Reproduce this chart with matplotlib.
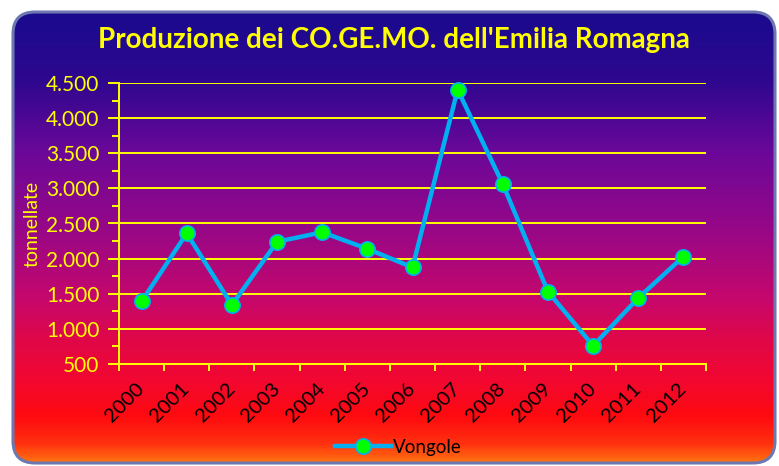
import numpy as np
import matplotlib
matplotlib.use('Agg')
import matplotlib.pyplot as plt
from matplotlib.patches import FancyBboxPatch
from matplotlib.colors import LinearSegmentedColormap
from matplotlib.ticker import FuncFormatter, MultipleLocator
from matplotlib.transforms import ScaledTranslation

anni = ['2000', '2001', '2002', '2003', '2004', '2005', '2006',
        '2007', '2008', '2009', '2010', '2011', '2012']
vongole = [1390, 2360, 1340, 2240, 2375, 2140, 1875, 4405, 3060, 1530, 760, 1440, 2030]

plt.rcParams['font.family'] = ['Lato', 'DejaVu Sans']

W, H = 779, 466
fig = plt.figure(figsize=(W/100, H/100), dpi=100)
fig.patch.set_facecolor('white')

# background: rounded frame filled with a vertical gradient
bg = fig.add_axes([0, 0, 1, 1])
bg.set_xlim(0, W)
bg.set_ylim(H, 0)
bg.axis('off')
grad = LinearSegmentedColormap.from_list('bg', [
    (0.00, (0.10, 0.04, 0.56)),
    (0.15, (0.18, 0.03, 0.56)),
    (0.31, (0.42, 0.03, 0.60)),
    (0.48, (0.59, 0.03, 0.53)),
    (0.64, (0.78, 0.03, 0.42)),
    (0.73, (0.88, 0.03, 0.28)),
    (0.82, (0.95, 0.03, 0.19)),
    (0.90, (1.00, 0.04, 0.06)),
    (0.96, (1.00, 0.19, 0.06)),
    (1.00, (1.00, 0.44, 0.06)),
])
frame = FancyBboxPatch((13, 12), 762, 451, boxstyle='round,pad=0,rounding_size=22',
                       facecolor='none', edgecolor='#6d78b0', lw=2.2, zorder=3)
bg.add_patch(frame)
img = bg.imshow(np.linspace(0, 1, 300).reshape(-1, 1), cmap=grad, aspect='auto',
                extent=(13, 775, 463, 12), zorder=1)
img.set_clip_path(frame)

ax = fig.add_axes([119/W, 1-364/H, (706-119)/W, (364-83)/H])
ax.set_facecolor('none')
x = np.arange(len(anni))
ax.plot(x, vongole, color='#00b0f0', lw=3.2, marker='o', markersize=11,
        markerfacecolor='#00ff00', markeredgecolor='#00b0f0', markeredgewidth=1.2,
        label='Vongole', zorder=5, clip_on=False)

ax.set_xlim(-0.5, len(anni) - 0.5)
ax.set_ylim(500, 4500)
ax.yaxis.set_major_locator(MultipleLocator(500))
ax.yaxis.set_minor_locator(MultipleLocator(250))
ax.yaxis.set_major_formatter(FuncFormatter(lambda v, p: f'{v:,.0f}'.replace(',', '.')))
ax.grid(axis='y', color='#ffff00', lw=1.4)
ax.set_axisbelow(True)
for s in ['top', 'right']:
    ax.spines[s].set_visible(False)
for s in ['left', 'bottom']:
    ax.spines[s].set_color('#ffff00')
    ax.spines[s].set_linewidth(1.4)

ax.set_xticks(x)
ax.set_xticklabels(anni, rotation=45, ha='right', va='center', rotation_mode='anchor',
                   fontsize=14.5, color='black')
for lbl in ax.get_xticklabels():
    lbl.set_transform(lbl.get_transform() + ScaledTranslation(6/100, 0, fig.dpi_scale_trans))
ax.set_xticks(np.arange(-0.5, len(anni)), minor=True)
ax.tick_params(axis='x', which='major', length=0, pad=16)
ax.tick_params(axis='x', which='minor', length=5, color='#ffff00', width=1.4)
ax.tick_params(axis='y', which='major', length=8, color='#ffff00', width=1.4,
               labelcolor='#ffff00', labelsize=15, pad=6)
ax.tick_params(axis='y', which='minor', length=5, color='#ffff00', width=1.4)
ax.set_ylabel('tonnellate', color='#ffff00', fontsize=14, labelpad=4)

fig.text(394/W, 1-40/H, "Produzione dei CO.GE.MO. dell'Emilia Romagna", ha='center', va='center',
         color='#ffff00', fontsize=20, fontweight='bold')

leg = ax.legend(loc='center', bbox_to_anchor=(398/W, 1-447/H), bbox_transform=fig.transFigure,
                frameon=False, fontsize=13.5, handlelength=3.0, handletextpad=0.1)
for t in leg.get_texts():
    t.set_color('black')

fig.savefig('out.png', dpi=100)
